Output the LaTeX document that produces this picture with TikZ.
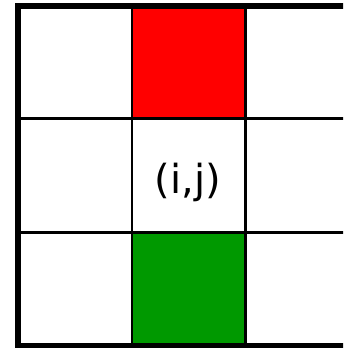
\documentclass[tikz,border=0pt]{standalone}
\usepackage{fontspec}
\setmainfont{DejaVu Sans}
\definecolor{cellred}{RGB}{255,0,0}
\definecolor{cellgreen}{RGB}{0,153,0}
\begin{document}
\begin{tikzpicture}[x=1pt,y=-1pt,
  cell/.style={minimum width=113.5pt,minimum height=113.5pt,inner sep=0pt,draw=none},
  gridline/.style={line width=2.6pt,black},
  border/.style={line width=6pt,black}]
\useasboundingbox (0,0) rectangle (343,348);
\clip (0,0) rectangle (343,348);
\fill[white] (0,0) rectangle (343,348);
\node[cell,fill=cellred] (top) at (188.75,62.25) {};
\node[cell,fill=white] (mid) at (188.75,175.5) {};
\node[cell,fill=cellgreen] (bot) at (188.75,289) {};
\node[font=\fontsize{40}{48}\selectfont,inner sep=0pt] (lbl) at (188,182) {(i,j)};
\draw[gridline] (132,6) -- (132,346);
\draw[gridline] (245.5,6) -- (245.5,346);
\draw[gridline] (18,118.5) -- (359,118.5);
\draw[gridline] (18,232.5) -- (359,232.5);
\draw[border] (18,6) rectangle (359,346);
\end{tikzpicture}
\end{document}
